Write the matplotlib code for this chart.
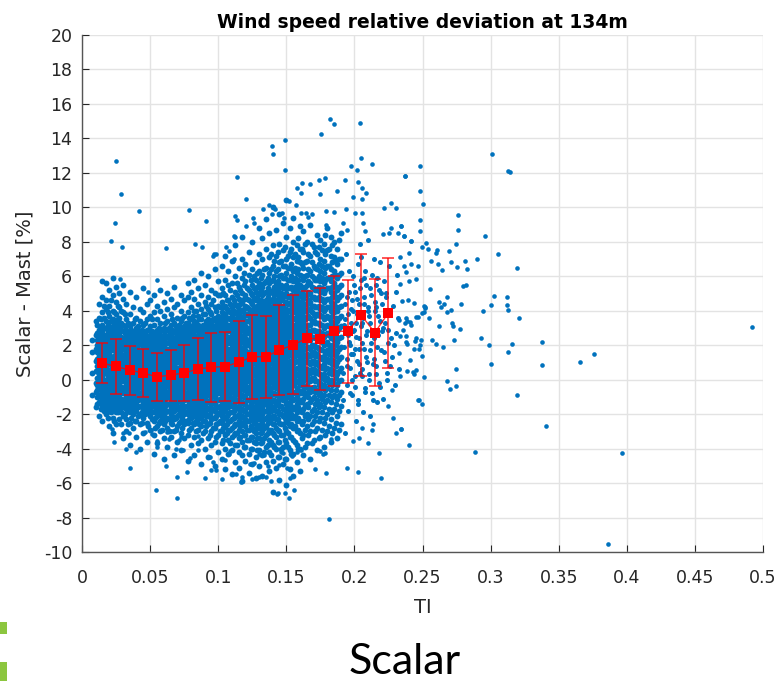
import matplotlib
matplotlib.use("Agg")
import matplotlib.pyplot as plt
from matplotlib.patches import Rectangle

plt.rcParams['font.family'] = ['DejaVu Sans']
plt.rcParams['axes.unicode_minus'] = False

# ---------------- data ----------------
# binned statistics (red squares with +/- 1 std error bars)
bin_ti = [0.015, 0.025, 0.035, 0.045, 0.055, 0.065, 0.075, 0.085, 0.095, 0.105, 0.115,
          0.125, 0.135, 0.145, 0.155, 0.165, 0.175, 0.185, 0.195, 0.205, 0.215, 0.225]
bin_mean = [0.96, 0.77, 0.55, 0.39, 0.16, 0.27, 0.39, 0.62, 0.72, 0.76, 1.01,
            1.33, 1.33, 1.72, 2.02, 2.40, 2.37, 2.81, 2.81, 3.74, 2.73, 3.88]
bin_std = [1.15, 1.58, 1.42, 1.39, 1.40, 1.48, 1.63, 1.78, 2.00, 2.02, 2.39,
           2.43, 2.39, 2.60, 2.87, 2.77, 2.96, 3.19, 2.98, 3.54, 3.09, 3.20]

# dense cloud, read column by column (TI of column, deviations in that column)
col_ti = [0.0075, 0.0100, 0.0125, 0.0150, 0.0175, 0.0200, 0.0225, 0.0250, 0.0275, 0.0300,
          0.0325, 0.0350, 0.0375, 0.0400, 0.0425, 0.0450, 0.0475, 0.0500,
          0.0525, 0.0550, 0.0575, 0.0600, 0.0625, 0.0650, 0.0675, 0.0700, 0.0725, 0.0750, 0.0775, 0.0800,
          0.0825, 0.0850, 0.0875, 0.0900, 0.0925, 0.0950, 0.0975, 0.1000,
          0.1025, 0.1050, 0.1075, 0.1100, 0.1125, 0.1150, 0.1175, 0.1200, 0.1225, 0.1250, 0.1275, 0.1300,
          0.1325, 0.1350, 0.1375, 0.1400, 0.1425, 0.1450, 0.1475, 0.1500, 0.1525, 0.1550, 0.1575, 0.1600,
          0.1625, 0.1650, 0.1675, 0.1700, 0.1725, 0.1750, 0.1775, 0.1800, 0.1825, 0.1850, 0.1875, 0.1900]
col_dev = [
    [-0.9, 0.4, 1.6, 2.3],
    [-1.6, -0.7, -0.2, 0.5, 1.1, 1.8, 2.6, 3.4],
    [-2.1, -1.3, -0.9, -0.5, -0.1, 0.3, 0.6, 1.0, 1.4, 1.7, 2.1, 2.5, 2.9, 3.6, 4.4],
    [-2.4, -1.5, -1.1, -0.8, -0.4, -0.1, 0.2, 0.5, 0.8, 1.2, 1.5, 1.8, 2.1, 2.4, 2.8, 3.2, 3.9, 4.8, 5.7],
    [-2.0, -1.6, -1.2, -0.9, -0.6, -0.3, 0.0, 0.4, 0.7, 1.0, 1.3, 1.6, 2.0, 2.3, 2.6, 3.0, 3.4, 4.1, 4.6, 5.6],
    [-2.7, -1.8, -1.4, -1.0, -0.7, -0.4, -0.1, 0.2, 0.5, 0.9, 1.2, 1.5, 1.9, 2.2, 2.5, 2.8, 3.1, 3.7, 4.3, 5.2],
    [-3.1, -2.2, -1.5, -1.2, -0.8, -0.5, -0.2, 0.1, 0.4, 0.7, 1.0, 1.3, 1.7, 2.0, 2.4, 2.7, 3.0, 3.5, 4.0, 4.9, 5.9],
    [-2.6, -1.9, -1.4, -1.0, -0.6, -0.3, 0.0, 0.3, 0.6, 0.9, 1.2, 1.5, 1.8, 2.2, 2.5, 2.9, 3.3, 3.8, 4.5, 5.4],
    [-2.3, -1.7, -1.3, -0.9, -0.6, -0.2, 0.1, 0.4, 0.8, 1.1, 1.4, 1.7, 2.0, 2.4, 2.7, 3.1, 3.6, 4.2, 5.0],
    [-3.4, -2.1, -1.6, -1.2, -0.8, -0.5, -0.1, 0.2, 0.5, 0.8, 1.1, 1.4, 1.8, 2.1, 2.4, 2.8, 3.2, 3.9, 4.7, 5.5],
    [-3.0, -2.3, -1.7, -1.3, -1.0, -0.6, -0.3, 0.0, 0.3, 0.6, 0.9, 1.2, 1.5, 1.8, 2.2, 2.5, 2.9, 3.5, 4.4],
    [-3.8, -2.5, -1.9, -1.5, -1.1, -0.8, -0.4, -0.1, 0.2, 0.5, 0.8, 1.1, 1.4, 1.7, 2.0, 2.4, 2.7, 3.1, 3.8, 5.1],
    [-2.8, -2.0, -1.6, -1.2, -0.9, -0.5, -0.2, 0.1, 0.4, 0.7, 1.0, 1.3, 1.6, 2.0, 2.3, 2.6, 3.3, 4.2],
    [-3.3, -2.4, -1.8, -1.4, -1.0, -0.7, -0.3, 0.0, 0.3, 0.6, 0.9, 1.2, 1.5, 1.9, 2.2, 2.5, 3.0, 3.6, 4.8],
    [-4.0, -2.6, -2.0, -1.5, -1.1, -0.8, -0.4, -0.1, 0.2, 0.5, 0.8, 1.1, 1.4, 1.7, 2.1, 2.4, 2.8, 3.4, 4.1],
    [-3.1, -2.2, -1.7, -1.3, -0.9, -0.6, -0.2, 0.1, 0.4, 0.7, 1.0, 1.3, 1.6, 2.0, 2.3, 2.7, 3.2, 3.9, 5.3],
    [-3.6, -2.5, -1.9, -1.5, -1.1, -0.7, -0.4, -0.1, 0.2, 0.5, 0.8, 1.1, 1.5, 1.8, 2.1, 2.5, 2.9, 3.5, 4.4],
    [-2.9, -2.1, -1.7, -1.3, -0.9, -0.6, -0.3, 0.0, 0.3, 0.6, 1.0, 1.3, 1.6, 1.9, 2.2, 2.6, 3.1, 3.7, 4.6],
    [-4.3, -3.2, -2.4, -1.9, -1.5, -1.2, -0.8, -0.5, -0.2, 0.1, 0.4, 0.7, 1.0, 1.3, 1.6, 2.0, 2.3, 2.7, 3.2, 3.9, 4.9],
    [-3.7, -2.7, -2.1, -1.7, -1.3, -1.0, -0.6, -0.3, 0.0, 0.3, 0.6, 0.9, 1.2, 1.5, 1.8, 2.2, 2.5, 2.9, 3.5, 4.3],
    [-3.0, -2.4, -1.9, -1.5, -1.1, -0.7, -0.4, -0.1, 0.2, 0.5, 0.8, 1.1, 1.4, 1.7, 2.0, 2.4, 2.8, 3.3, 4.0, 5.2],
    [-4.6, -3.4, -2.6, -2.0, -1.6, -1.2, -0.9, -0.5, -0.2, 0.1, 0.4, 0.7, 1.0, 1.3, 1.6, 1.9, 2.3, 2.6, 3.0, 3.7, 4.5],
    [-3.9, -2.8, -2.2, -1.8, -1.4, -1.0, -0.7, -0.3, 0.0, 0.3, 0.6, 0.9, 1.2, 1.5, 1.8, 2.1, 2.5, 2.9, 3.4, 4.1, 5.0],
    [-3.3, -2.5, -2.0, -1.6, -1.2, -0.8, -0.5, -0.2, 0.1, 0.4, 0.7, 1.0, 1.3, 1.7, 2.0, 2.4, 2.7, 3.2, 3.8, 4.7],
    [-4.4, -3.0, -2.3, -1.8, -1.4, -1.1, -0.7, -0.4, -0.1, 0.2, 0.5, 0.8, 1.1, 1.4, 1.7, 2.1, 2.4, 2.8, 3.3, 4.2, 5.4],
    [-3.6, -2.7, -2.1, -1.7, -1.3, -0.9, -0.6, -0.2, 0.1, 0.4, 0.7, 1.0, 1.3, 1.6, 1.9, 2.2, 2.6, 3.0, 3.6, 4.4],
    [-4.1, -3.1, -2.4, -1.9, -1.5, -1.1, -0.8, -0.4, -0.1, 0.2, 0.5, 0.8, 1.2, 1.5, 1.8, 2.1, 2.5, 2.9, 3.4, 4.0, 4.9],
    [-3.4, -2.6, -2.0, -1.6, -1.2, -0.9, -0.5, -0.2, 0.1, 0.4, 0.7, 1.0, 1.4, 1.7, 2.0, 2.3, 2.7, 3.1, 3.7, 4.6],
    [-4.7, -3.2, -2.5, -2.0, -1.6, -1.2, -0.8, -0.5, -0.1, 0.2, 0.5, 0.9, 1.2, 1.5, 1.8, 2.2, 2.5, 2.9, 3.3, 3.9, 4.8, 5.6],
    [-3.8, -2.8, -2.2, -1.7, -1.3, -1.0, -0.6, -0.3, 0.0, 0.3, 0.6, 1.0, 1.3, 1.6, 1.9, 2.3, 2.6, 3.0, 3.5, 4.2, 5.1],
    [-4.4, -3.3, -2.6, -2.1, -1.7, -1.3, -0.9, -0.6, -0.2, 0.1, 0.4, 0.7, 1.0, 1.3, 1.6, 2.0, 2.3, 2.6, 3.0, 3.4, 4.0, 4.7, 5.8],
    [-3.7, -2.9, -2.3, -1.9, -1.5, -1.1, -0.7, -0.4, -0.1, 0.2, 0.5, 0.9, 1.2, 1.5, 1.8, 2.1, 2.5, 2.8, 3.2, 3.7, 4.4, 5.3],
    [-4.9, -3.5, -2.7, -2.2, -1.8, -1.4, -1.0, -0.6, -0.3, 0.0, 0.3, 0.6, 1.0, 1.3, 1.6, 1.9, 2.3, 2.6, 3.0, 3.5, 4.1, 4.9, 6.2],
    [-4.0, -3.0, -2.4, -1.9, -1.5, -1.1, -0.8, -0.4, -0.1, 0.2, 0.5, 0.8, 1.1, 1.5, 1.8, 2.1, 2.4, 2.8, 3.2, 3.8, 4.5, 5.5],
    [-4.5, -3.4, -2.6, -2.1, -1.7, -1.3, -0.9, -0.5, -0.2, 0.1, 0.4, 0.7, 1.0, 1.3, 1.7, 2.0, 2.3, 2.7, 3.1, 3.5, 4.1, 4.8, 6.0],
    [-3.8, -3.0, -2.3, -1.8, -1.4, -1.0, -0.7, -0.3, 0.0, 0.3, 0.6, 0.9, 1.2, 1.6, 1.9, 2.2, 2.6, 2.9, 3.3, 3.8, 4.4, 5.2],
    [-5.0, -3.6, -2.8, -2.2, -1.8, -1.4, -1.0, -0.6, -0.3, 0.1, 0.4, 0.7, 1.0, 1.4, 1.7, 2.0, 2.4, 2.7, 3.1, 3.6, 4.2, 5.0, 6.4],
    [-4.2, -3.2, -2.5, -2.0, -1.6, -1.2, -0.8, -0.4, -0.1, 0.2, 0.5, 0.9, 1.2, 1.5, 1.8, 2.2, 2.5, 2.9, 3.3, 3.7, 4.3, 4.9, 5.7],
    [-4.6, -3.7, -3.0, -2.5, -2.1, -1.7, -1.3, -0.9, -0.6, -0.2, 0.1, 0.4, 0.7, 1.0, 1.4, 1.7, 2.0, 2.4, 2.7, 3.1, 3.5, 3.9, 4.5, 5.3, 6.6],
    [-5.2, -4.0, -3.2, -2.7, -2.2, -1.8, -1.4, -1.0, -0.7, -0.3, 0.0, 0.3, 0.7, 1.0, 1.3, 1.6, 2.0, 2.3, 2.6, 3.0, 3.4, 3.8, 4.3, 4.9, 5.8, 7.2],
    [-4.3, -3.5, -2.9, -2.4, -2.0, -1.6, -1.2, -0.8, -0.5, -0.1, 0.2, 0.5, 0.8, 1.2, 1.5, 1.8, 2.2, 2.5, 2.9, 3.2, 3.6, 4.0, 4.6, 5.5, 6.3],
    [-5.5, -4.1, -3.3, -2.8, -2.3, -1.9, -1.5, -1.1, -0.7, -0.4, 0.0, 0.3, 0.6, 0.9, 1.3, 1.6, 1.9, 2.3, 2.6, 3.0, 3.3, 3.7, 4.2, 4.8, 5.6, 6.9],
    [-4.8, -3.8, -3.1, -2.6, -2.1, -1.7, -1.3, -0.9, -0.6, -0.2, 0.1, 0.5, 0.8, 1.1, 1.5, 1.8, 2.1, 2.5, 2.8, 3.2, 3.5, 3.9, 4.4, 5.1, 6.0, 7.8],
    [-5.1, -4.2, -3.4, -2.9, -2.4, -2.0, -1.6, -1.2, -0.8, -0.4, -0.1, 0.2, 0.6, 0.9, 1.2, 1.6, 1.9, 2.2, 2.6, 2.9, 3.3, 3.7, 4.1, 4.7, 5.4, 6.5],
    [-5.9, -4.4, -3.6, -3.0, -2.5, -2.1, -1.7, -1.3, -0.9, -0.5, -0.2, 0.2, 0.5, 0.8, 1.2, 1.5, 1.8, 2.2, 2.5, 2.9, 3.2, 3.6, 4.0, 4.5, 5.0, 5.9, 7.0, 8.3],
    [-4.7, -3.9, -3.2, -2.7, -2.3, -1.8, -1.4, -1.0, -0.6, -0.3, 0.1, 0.4, 0.7, 1.1, 1.4, 1.7, 2.1, 2.4, 2.7, 3.1, 3.4, 3.8, 4.3, 4.9, 5.7, 6.7],
    [-5.4, -4.3, -3.5, -2.9, -2.4, -2.0, -1.6, -1.2, -0.8, -0.4, -0.1, 0.3, 0.6, 0.9, 1.3, 1.6, 2.0, 2.3, 2.7, 3.0, 3.4, 3.7, 4.1, 4.6, 5.2, 6.1, 7.4],
    [-4.9, -4.0, -3.3, -2.8, -2.3, -1.9, -1.5, -1.1, -0.7, -0.3, 0.0, 0.4, 0.7, 1.1, 1.4, 1.8, 2.1, 2.4, 2.8, 3.2, 3.5, 3.9, 4.4, 4.9, 5.5, 6.4, 8.0],
    [-5.7, -4.5, -3.7, -3.1, -2.6, -2.1, -1.7, -1.3, -0.9, -0.5, -0.2, 0.2, 0.5, 0.9, 1.2, 1.6, 1.9, 2.3, 2.6, 3.0, 3.3, 3.7, 4.1, 4.6, 5.1, 5.8, 6.8],
    [-5.0, -4.1, -3.4, -2.8, -2.3, -1.9, -1.4, -1.0, -0.6, -0.2, 0.1, 0.5, 0.8, 1.2, 1.5, 1.9, 2.2, 2.6, 2.9, 3.3, 3.7, 4.0, 4.5, 5.0, 5.6, 6.3, 7.3, 8.8],
    [-5.6, -4.4, -3.6, -3.0, -2.5, -2.0, -1.6, -1.1, -0.7, -0.3, 0.0, 0.4, 0.8, 1.1, 1.5, 1.8, 2.2, 2.5, 2.9, 3.2, 3.6, 4.0, 4.4, 4.9, 5.4, 6.1, 7.0, 8.2],
    [-4.8, -3.9, -3.2, -2.7, -2.2, -1.8, -1.3, -0.9, -0.5, -0.1, 0.2, 0.6, 0.9, 1.3, 1.6, 2.0, 2.3, 2.7, 3.0, 3.4, 3.8, 4.2, 4.6, 5.1, 5.7, 6.5, 7.6, 9.3],
    [-5.3, -4.2, -3.5, -2.9, -2.4, -1.9, -1.5, -1.0, -0.6, -0.2, 0.1, 0.5, 0.9, 1.2, 1.6, 1.9, 2.3, 2.6, 3.0, 3.3, 3.7, 4.1, 4.5, 5.0, 5.6, 6.2, 7.1, 8.5],
    [-6.5, -4.7, -3.8, -3.1, -2.6, -2.1, -1.6, -1.2, -0.8, -0.4, 0.0, 0.4, 0.7, 1.1, 1.4, 1.8, 2.1, 2.5, 2.8, 3.2, 3.5, 3.9, 4.3, 4.7, 5.2, 5.8, 6.6, 7.8, 10.0],
    [-5.1, -4.0, -3.3, -2.8, -2.3, -1.8, -1.4, -0.9, -0.5, -0.1, 0.3, 0.6, 1.0, 1.3, 1.7, 2.0, 2.4, 2.7, 3.1, 3.4, 3.8, 4.2, 4.6, 5.1, 5.6, 6.3, 7.2, 8.7],
    [-5.8, -4.5, -3.6, -3.0, -2.5, -2.0, -1.5, -1.1, -0.7, -0.3, 0.1, 0.5, 0.8, 1.2, 1.5, 1.9, 2.2, 2.6, 2.9, 3.3, 3.7, 4.0, 4.4, 4.9, 5.4, 6.0, 6.8, 7.9, 9.6],
    [-4.9, -3.9, -3.2, -2.6, -2.1, -1.7, -1.2, -0.8, -0.4, 0.0, 0.4, 0.7, 1.1, 1.4, 1.8, 2.1, 2.5, 2.8, 3.2, 3.5, 3.9, 4.3, 4.8, 5.3, 5.9, 6.6, 7.5, 9.1],
    [-6.1, -4.6, -3.7, -3.0, -2.4, -1.9, -1.4, -1.0, -0.6, -0.2, 0.2, 0.5, 0.9, 1.3, 1.6, 2.0, 2.3, 2.7, 3.0, 3.4, 3.8, 4.1, 4.5, 5.0, 5.5, 6.2, 7.0, 8.3, 10.4],
    [-5.2, -4.1, -3.3, -2.7, -2.2, -1.7, -1.3, -0.8, -0.4, 0.0, 0.4, 0.8, 1.1, 1.5, 1.9, 2.2, 2.6, 2.9, 3.3, 3.6, 4.0, 4.4, 4.8, 5.3, 5.8, 6.5, 7.4, 8.8],
    [-5.6, -4.3, -3.5, -2.8, -2.2, -1.7, -1.2, -0.8, -0.3, 0.1, 0.5, 0.9, 1.3, 1.6, 2.0, 2.4, 2.7, 3.1, 3.5, 3.9, 4.3, 4.7, 5.2, 5.7, 6.3, 7.1, 8.0, 9.4],
    [-4.8, -3.8, -3.0, -2.4, -1.9, -1.4, -0.9, -0.5, -0.1, 0.3, 0.7, 1.1, 1.5, 1.9, 2.2, 2.6, 3.0, 3.4, 3.8, 4.2, 4.6, 5.1, 5.6, 6.2, 6.9, 7.8],
    [-5.3, -4.0, -3.1, -2.4, -1.8, -1.3, -0.8, -0.3, 0.1, 0.5, 0.9, 1.3, 1.7, 2.1, 2.5, 2.9, 3.3, 3.7, 4.1, 4.5, 5.0, 5.5, 6.1, 6.8, 7.6, 8.9],
    [-4.4, -3.2, -2.4, -1.7, -1.1, -0.6, -0.1, 0.4, 0.8, 1.3, 1.7, 2.1, 2.5, 2.9, 3.3, 3.7, 4.2, 4.7, 5.2, 5.8, 6.5, 7.4, 8.6],
    [-3.7, -2.7, -2.0, -1.4, -0.8, -0.3, 0.2, 0.6, 1.1, 1.5, 1.9, 2.3, 2.7, 3.1, 3.6, 4.0, 4.4, 4.9, 5.5, 6.1, 6.9, 8.0],
    [-4.6, -3.0, -2.1, -1.3, -0.7, -0.1, 0.4, 0.9, 1.4, 1.8, 2.3, 2.7, 3.2, 3.6, 4.1, 4.5, 5.0, 5.6, 6.3, 7.2, 9.0],
    [-3.5, -2.4, -1.7, -1.0, -0.4, 0.1, 0.6, 1.1, 1.6, 2.0, 2.5, 2.9, 3.4, 3.8, 4.3, 4.8, 5.3, 5.9, 6.6, 7.7],
    [-4.1, -2.8, -1.9, -1.2, -0.6, -0.1, 0.5, 1.0, 1.5, 1.9, 2.4, 2.8, 3.3, 3.8, 4.2, 4.7, 5.2, 5.8, 6.4, 7.3, 8.4],
    [-3.3, -2.2, -1.4, -0.8, -0.2, 0.3, 0.8, 1.3, 1.8, 2.3, 2.7, 3.2, 3.7, 4.1, 4.6, 5.1, 5.7, 6.3, 7.0, 8.1],
    [-3.9, -2.5, -1.6, -0.9, -0.3, 0.3, 0.9, 1.4, 2.0, 2.5, 3.0, 3.5, 4.0, 4.5, 5.0, 5.6, 6.2, 6.9, 7.9],
    [-3.0, -2.0, -1.2, -0.5, 0.1, 0.7, 1.2, 1.7, 2.2, 2.7, 3.2, 3.7, 4.2, 4.7, 5.3, 5.9, 6.6, 7.5, 8.8],
    [-3.6, -2.3, -1.3, -0.6, 0.0, 0.6, 1.2, 1.8, 2.4, 2.9, 3.4, 4.0, 4.5, 5.1, 5.7, 6.4, 7.2, 8.3],
    [-2.8, -1.7, -0.9, -0.2, 0.5, 1.1, 1.7, 2.3, 2.8, 3.3, 3.9, 4.4, 5.0, 5.6, 6.3, 7.1, 8.0],
    [-3.4, -2.1, -1.1, -0.3, 0.3, 1.0, 1.6, 2.2, 2.8, 3.4, 4.0, 4.6, 5.2, 5.9, 6.7, 7.6],
    [-2.6, -1.5, -0.7, 0.0, 0.7, 1.3, 1.9, 2.5, 3.1, 3.7, 4.3, 4.9, 5.5, 6.2, 7.0, 8.5],
]

# second set of columns, in between the first ones (dense core)
col2_ti = [0.01125, 0.01375, 0.01625, 0.01875, 0.02125, 0.02375, 0.02625, 0.02875,
           0.03125, 0.03375, 0.03625, 0.03875, 0.04125, 0.04375, 0.04625, 0.04875,
           0.05125, 0.05375, 0.05625, 0.05875, 0.06125, 0.06375, 0.06625, 0.06875,
           0.07125, 0.07375, 0.07625, 0.07875, 0.08125, 0.08375, 0.08625, 0.08875,
           0.09125, 0.09375, 0.09625, 0.09875, 0.10125, 0.10375, 0.10625, 0.10875,
           0.11125, 0.11375, 0.11625, 0.11875, 0.12125, 0.12375, 0.12625, 0.12875,
           0.13125, 0.13375, 0.13625, 0.13875, 0.14125, 0.14375, 0.14625, 0.14875,
           0.15125, 0.15375, 0.15625, 0.15875, 0.16125, 0.16375, 0.16625, 0.16875,
           0.17125, 0.17375, 0.17625, 0.17875, 0.18125, 0.18375, 0.18625, 0.18875]
col2_dev = [
    [-1.4, -1.0, -0.6, -0.3, 0.1, 0.5, 0.8, 1.2, 1.6, 2.0, 2.3, 2.7, 3.2],
    [-1.7, -1.3, -1.0, -0.6, -0.2, 0.1, 0.4, 0.8, 1.1, 1.5, 1.9, 2.2, 2.6, 3.0, 3.5],
    [-1.8, -1.3, -1.0, -0.6, -0.3, 0.0, 0.4, 0.7, 1.0, 1.4, 1.7, 2.0, 2.3, 2.6, 3.0, 3.6, 4.3],
    [-2.2, -1.4, -1.1, -0.8, -0.5, -0.1, 0.2, 0.5, 0.9, 1.2, 1.5, 1.8, 2.2, 2.5, 2.8, 3.2, 3.9],
    [-1.9, -1.6, -1.2, -0.9, -0.6, -0.3, 0.0, 0.3, 0.6, 1.0, 1.3, 1.7, 2.0, 2.3, 2.6, 3.0, 3.4, 4.6],
    [-2.4, -1.7, -1.3, -1.0, -0.7, -0.4, -0.1, 0.2, 0.5, 0.8, 1.1, 1.4, 1.7, 2.1, 2.4, 2.8, 3.2, 3.9],
    [-1.9, -1.6, -1.2, -0.8, -0.5, -0.2, 0.2, 0.5, 0.8, 1.1, 1.4, 1.7, 2.0, 2.3, 2.7, 3.0, 3.5, 4.3],
    [-2.6, -1.9, -1.4, -1.1, -0.7, -0.4, -0.1, 0.3, 0.6, 0.9, 1.2, 1.5, 1.9, 2.2, 2.5, 2.9, 3.3, 4.0],
    [-2.0, -1.5, -1.1, -0.8, -0.4, -0.1, 0.2, 0.5, 0.8, 1.0, 1.3, 1.7, 2.0, 2.3, 2.7, 3.1, 3.8],
    [-2.6, -1.8, -1.4, -1.0, -0.7, -0.3, 0.0, 0.3, 0.6, 0.9, 1.2, 1.5, 1.9, 2.2, 2.6, 3.3],
    [-2.2, -1.7, -1.3, -1.0, -0.6, -0.3, 0.0, 0.3, 0.6, 0.9, 1.2, 1.6, 1.9, 2.2, 2.5, 2.9],
    [-2.4, -1.8, -1.4, -1.1, -0.7, -0.4, -0.1, 0.2, 0.5, 0.8, 1.2, 1.5, 1.8, 2.1, 2.4, 2.8, 3.5],
    [-2.1, -1.6, -1.2, -0.9, -0.5, -0.2, 0.1, 0.4, 0.7, 1.0, 1.3, 1.6, 2.0, 2.3, 2.6, 3.1],
    [-2.5, -1.9, -1.5, -1.1, -0.8, -0.4, -0.1, 0.2, 0.5, 0.9, 1.2, 1.5, 1.8, 2.1, 2.5, 2.9],
    [-2.0, -1.6, -1.3, -0.9, -0.5, -0.2, 0.2, 0.5, 0.8, 1.1, 1.4, 1.7, 2.0, 2.4, 2.7, 3.3],
    [-2.7, -1.8, -1.4, -1.0, -0.7, -0.3, 0.0, 0.3, 0.6, 0.9, 1.2, 1.6, 1.9, 2.2, 2.5, 2.9],
    [-2.3, -1.9, -1.5, -1.1, -0.8, -0.4, -0.1, 0.2, 0.5, 0.8, 1.1, 1.4, 1.7, 2.1, 2.4, 2.8, 3.5],
    [-2.8, -2.2, -1.8, -1.4, -1.0, -0.7, -0.4, 0.0, 0.3, 0.6, 0.9, 1.2, 1.5, 1.8, 2.1, 2.5],
    [-2.5, -2.0, -1.6, -1.2, -0.9, -0.5, -0.2, 0.1, 0.4, 0.7, 1.0, 1.3, 1.6, 2.0, 2.3, 2.7, 3.0],
    [-2.9, -2.2, -1.7, -1.3, -1.0, -0.6, -0.3, 0.0, 0.3, 0.6, 0.9, 1.2, 1.6, 1.9, 2.2, 2.5, 2.9],
    [-2.4, -1.9, -1.5, -1.1, -0.8, -0.4, -0.1, 0.2, 0.5, 0.8, 1.1, 1.4, 1.8, 2.1, 2.4, 2.8, 3.3],
    [-3.0, -2.3, -1.8, -1.4, -1.0, -0.7, -0.4, 0.0, 0.3, 0.6, 0.9, 1.2, 1.5, 1.8, 2.2, 2.6, 3.0],
    [-2.6, -2.1, -1.7, -1.3, -0.9, -0.6, -0.3, 0.0, 0.3, 0.6, 0.9, 1.2, 1.6, 1.9, 2.2, 2.5, 2.9, 3.5],
    [-2.9, -2.2, -1.6, -1.2, -0.8, -0.5, -0.2, 0.1, 0.4, 0.7, 1.0, 1.3, 1.6, 2.0, 2.3, 2.7, 3.1],
    [-2.5, -2.0, -1.6, -1.2, -0.9, -0.5, -0.2, 0.1, 0.4, 0.7, 1.0, 1.3, 1.7, 2.0, 2.4, 2.8, 3.2],
    [-2.8, -2.2, -1.8, -1.4, -1.0, -0.7, -0.3, 0.0, 0.3, 0.6, 0.9, 1.2, 1.5, 1.9, 2.2, 2.6, 3.0, 3.6],
    [-2.4, -1.9, -1.5, -1.1, -0.8, -0.4, -0.1, 0.2, 0.5, 0.8, 1.1, 1.5, 1.8, 2.1, 2.5, 2.9, 3.3],
    [-2.9, -2.3, -1.8, -1.4, -1.0, -0.7, -0.3, 0.0, 0.4, 0.7, 1.0, 1.3, 1.7, 2.0, 2.4, 2.7, 3.1, 3.6],
    [-2.5, -2.0, -1.6, -1.2, -0.8, -0.5, -0.1, 0.2, 0.5, 0.8, 1.2, 1.5, 1.8, 2.1, 2.5, 2.8, 3.2, 3.7],
    [-3.0, -2.4, -1.9, -1.5, -1.1, -0.8, -0.4, -0.1, 0.3, 0.6, 0.9, 1.2, 1.5, 1.9, 2.2, 2.5, 2.9, 3.3, 4.0],
    [-2.6, -2.1, -1.7, -1.3, -0.9, -0.6, -0.2, 0.1, 0.4, 0.7, 1.0, 1.4, 1.7, 2.0, 2.4, 2.7, 3.1, 3.5],
    [-3.1, -2.4, -2.0, -1.6, -1.2, -0.8, -0.5, -0.1, 0.2, 0.5, 0.8, 1.2, 1.5, 1.8, 2.1, 2.5, 2.8, 3.2, 3.8],
    [-2.7, -2.1, -1.7, -1.3, -0.9, -0.6, -0.3, 0.1, 0.4, 0.7, 1.0, 1.3, 1.6, 2.0, 2.3, 2.6, 3.0, 3.4, 4.3],
    [-3.2, -2.5, -2.0, -1.6, -1.2, -0.8, -0.4, -0.1, 0.2, 0.5, 0.9, 1.2, 1.5, 1.8, 2.2, 2.5, 2.9, 3.3, 3.9],
    [-2.8, -2.2, -1.7, -1.3, -0.9, -0.5, -0.2, 0.1, 0.5, 0.8, 1.1, 1.4, 1.7, 2.1, 2.4, 2.8, 3.1, 3.5, 4.6],
    [-3.3, -2.6, -2.1, -1.6, -1.2, -0.8, -0.5, -0.1, 0.2, 0.6, 0.9, 1.2, 1.6, 1.9, 2.3, 2.6, 3.0, 3.4, 4.0],
    [-3.0, -2.4, -1.9, -1.5, -1.1, -0.7, -0.3, 0.0, 0.3, 0.7, 1.0, 1.3, 1.7, 2.0, 2.4, 2.7, 3.1, 3.5, 4.2, 4.9],
    [-3.5, -2.8, -2.3, -1.9, -1.5, -1.1, -0.8, -0.4, -0.1, 0.2, 0.6, 0.9, 1.2, 1.5, 1.9, 2.2, 2.5, 2.9, 3.3, 3.7, 4.2, 5.0],
    [-3.1, -2.6, -2.1, -1.6, -1.2, -0.9, -0.5, -0.1, 0.2, 0.5, 0.8, 1.2, 1.5, 1.8, 2.1, 2.5, 2.8, 3.2, 3.6, 4.1, 4.6],
    [-3.7, -2.9, -2.4, -1.9, -1.4, -1.0, -0.6, -0.3, 0.1, 0.4, 0.7, 1.0, 1.4, 1.7, 2.1, 2.4, 2.8, 3.1, 3.5, 3.9, 4.4, 5.2],
    [-3.2, -2.7, -2.2, -1.8, -1.4, -1.0, -0.6, -0.2, 0.2, 0.5, 0.8, 1.1, 1.4, 1.7, 2.0, 2.4, 2.8, 3.1, 3.5, 4.0, 4.6],
    [-3.8, -3.1, -2.6, -2.1, -1.6, -1.2, -0.8, -0.4, -0.1, 0.3, 0.7, 1.0, 1.3, 1.7, 2.0, 2.3, 2.7, 3.0, 3.4, 3.8, 4.3, 4.9, 5.6],
    [-3.3, -2.7, -2.2, -1.8, -1.4, -1.0, -0.6, -0.3, 0.0, 0.4, 0.7, 1.1, 1.4, 1.7, 2.1, 2.4, 2.8, 3.1, 3.5, 3.9, 4.4, 5.2],
    [-3.9, -3.2, -2.6, -2.2, -1.8, -1.4, -1.0, -0.6, -0.2, 0.1, 0.5, 0.8, 1.2, 1.5, 1.9, 2.2, 2.6, 2.9, 3.3, 3.7, 4.1, 4.7, 5.5, 6.2],
    [-3.5, -2.9, -2.4, -2.0, -1.6, -1.2, -0.8, -0.5, -0.1, 0.2, 0.6, 0.9, 1.3, 1.6, 2.0, 2.3, 2.7, 3.0, 3.4, 3.8, 4.2, 4.7, 5.3],
    [-4.0, -3.3, -2.7, -2.2, -1.8, -1.4, -1.0, -0.6, -0.3, 0.1, 0.5, 0.8, 1.2, 1.5, 1.9, 2.2, 2.5, 2.9, 3.3, 3.6, 4.0, 4.5, 5.0, 5.8],
    [-3.6, -3.0, -2.5, -2.0, -1.6, -1.2, -0.9, -0.5, -0.1, 0.3, 0.6, 1.0, 1.3, 1.7, 2.0, 2.4, 2.7, 3.1, 3.4, 3.8, 4.2, 4.7, 5.3, 6.0],
    [-4.1, -3.4, -2.8, -2.3, -1.9, -1.5, -1.1, -0.7, -0.3, 0.0, 0.4, 0.7, 1.1, 1.4, 1.8, 2.1, 2.5, 2.8, 3.2, 3.5, 3.9, 4.3, 4.8, 5.4, 6.2],
    [-3.7, -3.1, -2.6, -2.1, -1.7, -1.2, -0.8, -0.4, -0.1, 0.3, 0.6, 1.0, 1.3, 1.7, 2.0, 2.4, 2.7, 3.1, 3.4, 3.8, 4.2, 4.6, 5.2, 5.9],
    [-4.2, -3.4, -2.8, -2.3, -1.8, -1.4, -1.0, -0.6, -0.2, 0.1, 0.5, 0.9, 1.2, 1.6, 1.9, 2.3, 2.6, 3.0, 3.3, 3.7, 4.1, 4.5, 5.0, 5.6, 6.4],
    [-3.8, -3.1, -2.5, -2.1, -1.6, -1.2, -0.8, -0.4, 0.0, 0.4, 0.7, 1.1, 1.4, 1.8, 2.1, 2.5, 2.8, 3.2, 3.6, 4.0, 4.4, 4.8, 5.3, 5.9],
    [-4.4, -3.6, -2.9, -2.3, -1.8, -1.3, -0.9, -0.5, -0.1, 0.3, 0.6, 1.0, 1.3, 1.7, 2.0, 2.4, 2.7, 3.1, 3.5, 3.8, 4.2, 4.6, 5.1, 5.7, 6.4, 7.3],
    [-3.9, -3.2, -2.6, -2.1, -1.6, -1.2, -0.8, -0.3, 0.1, 0.5, 0.8, 1.2, 1.5, 1.9, 2.2, 2.6, 2.9, 3.3, 3.7, 4.1, 4.5, 4.9, 5.4, 6.0, 6.9],
    [-4.5, -3.6, -2.9, -2.3, -1.8, -1.3, -0.9, -0.5, -0.1, 0.3, 0.7, 1.0, 1.4, 1.7, 2.1, 2.4, 2.8, 3.1, 3.5, 3.9, 4.3, 4.7, 5.2, 5.7, 6.4, 7.4],
    [-4.0, -3.2, -2.6, -2.0, -1.5, -1.0, -0.6, -0.2, 0.2, 0.6, 0.9, 1.3, 1.6, 2.0, 2.3, 2.7, 3.0, 3.4, 3.8, 4.2, 4.6, 5.0, 5.5, 6.1, 6.9],
    [-4.6, -3.5, -2.8, -2.2, -1.7, -1.2, -0.8, -0.4, 0.0, 0.4, 0.8, 1.1, 1.5, 1.8, 2.2, 2.6, 2.9, 3.3, 3.7, 4.1, 4.5, 4.9, 5.3, 5.9, 6.6, 7.7],
    [-3.9, -3.1, -2.5, -2.0, -1.5, -1.0, -0.6, -0.2, 0.2, 0.6, 1.0, 1.4, 1.7, 2.1, 2.5, 2.8, 3.2, 3.6, 4.0, 4.4, 4.8, 5.3, 5.8, 6.5, 7.2],
    [-4.3, -3.3, -2.6, -2.0, -1.5, -1.0, -0.5, -0.1, 0.3, 0.7, 1.1, 1.5, 1.8, 2.2, 2.6, 3.0, 3.3, 3.7, 4.1, 4.5, 4.9, 5.4, 6.0, 6.7, 7.6],
    [-3.6, -2.7, -2.1, -1.6, -1.1, -0.7, -0.2, 0.2, 0.6, 1.0, 1.4, 1.7, 2.1, 2.5, 2.8, 3.2, 3.6, 4.0, 4.4, 4.9, 5.4, 5.9, 6.5, 7.3],
    [-4.0, -2.9, -2.2, -1.6, -1.1, -0.6, -0.1, 0.3, 0.7, 1.1, 1.5, 1.9, 2.3, 2.7, 3.1, 3.5, 3.9, 4.3, 4.8, 5.3, 5.8, 6.4, 7.1, 8.2],
    [-3.4, -2.6, -1.9, -1.3, -0.8, -0.3, 0.2, 0.6, 1.0, 1.5, 1.9, 2.3, 2.7, 3.1, 3.5, 3.9, 4.4, 4.9, 5.4, 6.0, 6.7, 7.6],
    [-3.9, -2.9, -2.1, -1.5, -0.9, -0.4, 0.1, 0.5, 1.0, 1.4, 1.8, 2.2, 2.7, 3.1, 3.5, 4.0, 4.4, 4.9, 5.4, 6.0, 6.8, 7.9],
    [-3.2, -2.3, -1.6, -1.0, -0.5, 0.0, 0.5, 1.0, 1.4, 1.9, 2.3, 2.8, 3.2, 3.7, 4.1, 4.6, 5.1, 5.7, 6.4, 7.3],
    [-3.7, -2.6, -1.8, -1.1, -0.5, 0.1, 0.6, 1.1, 1.6, 2.0, 2.5, 2.9, 3.4, 3.9, 4.3, 4.8, 5.4, 6.0, 6.8, 7.9],
    [-3.0, -2.1, -1.4, -0.7, -0.1, 0.4, 0.9, 1.4, 1.9, 2.4, 2.8, 3.3, 3.7, 4.2, 4.7, 5.2, 5.8, 6.5, 7.4],
    [-3.4, -2.4, -1.6, -0.9, -0.3, 0.3, 0.8, 1.3, 1.8, 2.3, 2.8, 3.3, 3.8, 4.3, 4.8, 5.4, 6.0, 6.7, 7.7],
    [-2.9, -1.9, -1.1, -0.5, 0.1, 0.7, 1.2, 1.7, 2.2, 2.7, 3.2, 3.7, 4.2, 4.7, 5.3, 5.9, 6.6, 7.5],
    [-3.2, -2.2, -1.3, -0.6, 0.0, 0.6, 1.1, 1.6, 2.1, 2.6, 3.1, 3.6, 4.1, 4.6, 5.2, 5.8, 6.5, 7.3, 8.4],
    [-2.7, -1.7, -0.9, -0.2, 0.4, 1.0, 1.5, 2.0, 2.6, 3.1, 3.6, 4.2, 4.7, 5.3, 5.9, 6.6, 7.6],
    [-3.1, -1.9, -1.0, -0.3, 0.3, 0.9, 1.5, 2.0, 2.6, 3.1, 3.7, 4.2, 4.8, 5.4, 6.0, 6.8, 7.8],
    [-2.5, -1.4, -0.6, 0.1, 0.8, 1.4, 2.0, 2.5, 3.1, 3.6, 4.2, 4.8, 5.4, 6.1, 6.9],
    [-2.9, -1.8, -0.9, -0.1, 0.5, 1.2, 1.8, 2.4, 3.0, 3.6, 4.2, 4.8, 5.4, 6.1, 7.0, 8.1],
]

# sparser points, read individually (TI, deviation)
sparse_ti = [
    0.1930, 0.1951, 0.1968, 0.1985, 0.1942, 0.1977, 0.1959, 0.1990, 0.1934, 0.1972, 0.1948, 0.1995, 0.1962, 0.1939,
    0.2012, 0.2028, 0.2005, 0.2043, 0.2021, 0.2037, 0.2009, 0.2048, 0.2017, 0.2033, 0.2002, 0.2046, 0.2025, 0.2039,
    0.2063, 0.2081, 0.2055, 0.2094, 0.2072, 0.2088, 0.2059, 0.2098, 0.2067, 0.2085, 0.2076, 0.2052,
    0.2113, 0.2131, 0.2105, 0.2144, 0.2122, 0.2138, 0.2109, 0.2148, 0.2117, 0.2127, 0.2141, 0.2102,
    0.2163, 0.2181, 0.2155, 0.2194, 0.2172, 0.2188, 0.2159, 0.2197, 0.2167, 0.2185,
    0.2213, 0.2236, 0.2221, 0.2247, 0.2208, 0.2242, 0.2229, 0.2217, 0.2253, 0.2264, 0.2271, 0.2286,
    0.2295, 0.2279, 0.2309, 0.2318, 0.2302, 0.2326, 0.2289, 0.2313,
    0.1918, 0.1921, 0.1925, 0.1929, 0.1916, 0.1944, 0.1947, 0.1955, 0.1953, 0.1957, 0.1966, 0.1970,
    0.1974, 0.1979, 0.1983, 0.1993, 0.1997, 0.1989, 0.1987, 0.2003, 0.2008, 0.2014, 0.2019, 0.2023,
    0.2031, 0.2036, 0.2041, 0.2044, 0.2053, 0.2058, 0.2062, 0.2069, 0.2074, 0.2079, 0.2087, 0.2091,
    0.2097, 0.2104, 0.2111, 0.2118, 0.2124, 0.2133, 0.2137, 0.2143, 0.2149, 0.2156, 0.2161, 0.2169,
    0.2176, 0.2183, 0.2191, 0.2199, 0.2206, 0.2215, 0.2224, 0.2232, 0.2241, 0.2249,
]
sparse_dev = [
    -3.1, -1.8, -0.8, 0.0, 0.8, 1.5, 2.2, 2.8, 3.5, 4.1, 4.8, 5.5, 6.3, 7.3,
    -2.4, -1.2, -0.4, 0.4, 1.1, 1.8, 2.5, 3.1, 3.8, 4.4, 5.1, 5.8, 6.7, 7.9,
    -1.9, -0.7, 0.2, 1.0, 1.8, 2.6, 3.3, 4.0, 4.8, 5.5, 6.3, 7.1,
    -2.1, -0.8, 0.3, 1.2, 2.1, 2.9, 3.7, 4.5, 5.3, 6.1, 7.0, 8.1,
    -1.3, -0.2, 0.8, 1.7, 2.6, 3.4, 4.2, 5.0, 5.9, 6.8,
    -1.1, 0.0, 1.1, 2.1, 3.0, 3.9, 4.8, 5.7, 6.6, 0.8, 2.4, 4.3,
    -0.3, 1.3, 2.7, 3.6, 5.1, 0.6, 2.0, 6.1,
    0.4, 1.9, 3.2, 4.4, -1.2, -0.3, 1.2, 2.6, 3.8, 5.1, 0.7, 2.0,
    3.3, 4.6, -0.9, 1.5, 2.9, 4.0, 6.0, 0.2, 1.8, 3.3, 4.7, -1.4,
    0.9, 2.4, 3.9, 5.3, 0.6, 2.1, 3.6, 4.4, 5.9, -0.5, 1.3, 2.8,
    4.2, 0.0, 1.7, 3.3, 4.9, -1.2, 0.9, 2.4, 4.0, 5.5, 0.3, 1.9,
    3.7, 5.2, -0.4, 2.8, 4.4, 1.6, 3.3, 5.0, 0.4, 2.9,
]

# individually visible outliers (TI, deviation)
out_ti = [
    0.0252, 0.0283, 0.0422, 0.0245, 0.0215, 0.0291, 0.0618, 0.0788, 0.0913, 0.1138, 0.1203, 0.1394,
    0.1406, 0.1489, 0.1489, 0.1753, 0.1818, 0.1852, 0.2040, 0.2048, 0.2126, 0.1972, 0.2020, 0.2372,
    0.0830, 0.0881, 0.0554, 0.0486, 0.0276,
    0.1616, 0.1610, 0.1672, 0.1740, 0.1782, 0.1579, 0.1745, 0.1874, 0.1928, 0.2028, 0.2055, 0.2082,
    0.1991, 0.2057, 0.1496, 0.1523, 0.1328, 0.1374, 0.1398, 0.1420, 0.1467, 0.1484, 0.1574, 0.1608,
    0.1643, 0.1691, 0.1657, 0.1793, 0.1791, 0.1852, 0.1914, 0.1936, 0.1948, 0.2004, 0.2057, 0.2064,
    0.2077, 0.2214, 0.2269, 0.2306, 0.2340, 0.2211, 0.2253, 0.2269, 0.2321, 0.2365, 0.2419,
    0.1120, 0.1135, 0.1203, 0.1252, 0.1264, 0.1113, 0.1127, 0.0984, 0.0959, 0.0971, 0.1057, 0.1081,
    0.1105, 0.1113,
    0.3008, 0.3126, 0.3143, 0.2481, 0.2370, 0.2479, 0.2503, 0.2483, 0.2761, 0.2761, 0.2483, 0.2958,
    0.2343, 0.2365, 0.2417, 0.2747, 0.2523, 0.2493, 0.2540, 0.2604, 0.2599, 0.2696, 0.3057, 0.2402,
    0.2902, 0.2560, 0.2707, 0.2811, 0.2616, 0.2419, 0.2365, 0.2468, 0.2752, 0.2826, 0.2646, 0.3193,
    0.2380, 0.2333, 0.2338, 0.2400, 0.2452, 0.2557, 0.2801, 0.2818, 0.3023, 0.3119, 0.2683, 0.2346,
    0.2395, 0.2436, 0.2510, 0.2515, 0.2520, 0.2510, 0.2493, 0.2619, 0.2638, 0.2658, 0.2678, 0.2712,
    0.2781, 0.2944, 0.3003, 0.3119, 0.3131, 0.3210, 0.4920, 0.2545, 0.2622, 0.2717, 0.2722, 0.2774,
    0.2326, 0.2368, 0.2387, 0.2405, 0.2412, 0.2360, 0.2380, 0.2454, 0.2466, 0.2927, 0.2991, 0.3160,
    0.3131, 0.3380, 0.2734, 0.2653, 0.2599, 0.2570, 0.2486, 0.2479, 0.2444, 0.2454, 0.2382, 0.2387,
    0.2335, 0.2380, 0.2441, 0.2471, 0.2326, 0.2405, 0.2493, 0.3003, 0.3380, 0.3660, 0.3756, 0.2747,
    0.2387, 0.2432, 0.2454, 0.2441, 0.2338, 0.2513, 0.2680, 0.2744, 0.2703, 0.3193, 0.2474, 0.2493,
    0.3407, 0.2343, 0.2400, 0.2885, 0.3965, 0.3865,
    0.1813, 0.0542, 0.0698, 0.1430, 0.1438, 0.1489, 0.1520, 0.1555, 0.1169, 0.0354, 0.0618, 0.0698,
    0.0769, 0.0900, 0.1028, 0.1133, 0.1245, 0.1296, 0.1352, 0.1391, 0.1526, 0.1709, 0.1789, 0.1947,
    0.2023, 0.2196, 0.2177, 0.0325, 0.0395, 0.0237, 0.0222, 0.0300, 0.0344, 0.0459, 0.0503, 0.0515,
    0.0552, 0.0549, 0.0622, 0.0637, 0.0652, 0.0691, 0.0715, 0.0728, 0.0742, 0.0796, 0.0852, 0.0854,
    0.0937, 0.0949, 0.0984, 0.0964, 0.1047, 0.1081, 0.1089, 0.1174, 0.1235, 0.1264, 0.1303, 0.1337,
    0.1362, 0.1450, 0.1460, 0.1477, 0.1506, 0.1545, 0.1581, 0.1608, 0.1747, 0.1767, 0.1784, 0.1826,
    0.1989, 0.2033, 0.2053, 0.2099, 0.2126, 0.2135, 0.2282, 0.2302, 0.2340, 0.2247, 0.2467, 0.2275,
]
out_dev = [
    12.67, 10.80, 9.81, 9.07, 8.06, 7.69, 7.66, 9.83, 9.19, 11.78, 10.50, 13.53,
    13.12, 13.88, 12.15, 14.23, 15.10, 14.84, 14.87, 12.89, 12.54, 12.37, 12.17, 11.84,
    7.89, 7.67, 5.76, 5.10, 5.85,
    11.43, 10.85, 11.38, 11.57, 11.73, 11.10, 10.77, 10.95, 11.59, 11.45, 11.12, 10.81,
    10.60, 10.49, 10.43, 10.39, 9.92, 10.12, 9.59, 9.88, 9.69, 9.40, 10.12, 9.69,
    9.65, 9.59, 9.46, 9.79, 9.00, 9.73, 9.09, 9.92, 8.68, 9.65, 9.69, 9.09,
    8.62, 9.98, 10.27, 9.98, 8.90, 8.47, 8.51, 8.78, 8.49, 8.33, 8.04,
    9.50, 9.24, 8.91, 9.40, 9.11, 8.33, 8.30, 7.31, 7.17, 7.28, 7.69, 7.46,
    6.88, 7.02,
    13.10, 12.11, 12.05, 12.42, 11.84, 10.93, 10.17, 9.28, 9.55, 8.70, 8.60, 8.33,
    8.90, 8.31, 8.04, 7.89, 7.92, 7.69, 7.60, 7.54, 7.37, 7.48, 7.31, 7.33,
    6.98, 6.90, 6.84, 6.90, 6.74, 6.74, 6.59, 6.59, 6.55, 6.44, 6.38, 6.49,
    6.24, 7.13, 5.56, 5.72, 5.87, 5.29, 5.42, 5.48, 4.83, 4.78, 4.78, 4.57,
    4.63, 4.44, 4.30, 4.19, 4.13, 3.94, 3.86, 4.52, 4.24, 4.38, 3.95, 4.05,
    4.38, 4.00, 4.36, 4.36, 4.03, 3.55, 3.05, 3.55, 3.14, 3.26, 3.14, 2.95,
    3.49, 3.30, 3.38, 3.35, 3.15, 2.90, 3.60, 3.65, 3.65, 2.40, 2.02, 2.08,
    1.61, 2.19, 2.28, 1.92, 2.05, 2.33, 2.33, 2.02, 2.25, 2.40, 2.20, 2.05,
    2.54, 2.54, 1.80, 1.80, 1.55, 1.12, 1.35, 0.91, 0.87, 1.05, 1.49, 0.64,
    0.50, 0.45, 0.55, 0.32, 0.20, 0.13, -0.08, -0.37, -0.54, -0.91, -1.20, -1.41,
    -2.71, -2.87, -3.82, -4.20, -4.25, -9.52,
    -8.08, -6.41, -6.88, -6.65, -6.59, -6.59, -6.88, -6.41, -5.95, -5.14, -5.02, -5.66,
    -5.37, -5.68, -5.76, -5.48, -5.78, -5.64, -5.62, -5.89, -5.68, -5.16, -5.43, -5.14,
    -5.35, -5.72, -4.28, -4.03, -4.21, -3.62, -2.87, -3.10, -3.08, -3.04, -2.91, -3.14,
    -3.88, -3.53, -3.06, -3.43, -2.95, -4.01, -3.49, -3.33, -4.09, -4.53, -3.29, -4.07,
    -4.50, -5.23, -5.23, -4.77, -4.69, -4.32, -4.13, -5.66, -4.90, -4.81, -4.30, -4.40,
    -5.02, -4.96, -4.22, -4.28, -5.10, -4.44, -4.21, -4.11, -4.13, -4.30, -4.26, -3.45,
    -3.55, -3.41, -2.83, -3.70, -2.91, -2.60, -2.25, -3.08, -2.87, -1.53, -1.20, -0.60,
]

x_ticks = [0, 0.05, 0.1, 0.15, 0.2, 0.25, 0.3, 0.35, 0.4, 0.45, 0.5]
x_labels = ['0', '0.05', '0.1', '0.15', '0.2', '0.25', '0.3', '0.35', '0.4', '0.45', '0.5']
y_ticks = [-10, -8, -6, -4, -2, 0, 2, 4, 6, 8, 10, 12, 14, 16, 18, 20]

# ---------------- figure ----------------
fig = plt.figure(figsize=(7.77, 6.81), dpi=100)
ax = fig.add_axes([82 / 777, 1 - 552 / 681, (763 - 82) / 777, (552 - 35) / 681])

cloud_x, cloud_y = [], []
for ti, devs in zip(col_ti + col2_ti, col_dev + col2_dev):
    cloud_x += [ti] * len(devs)
    cloud_y += devs

blue = '#0072BD'
ax.scatter(cloud_x, cloud_y, s=18, c=blue, linewidths=0, zorder=2)
ax.scatter(sparse_ti, sparse_dev, s=13, c=blue, linewidths=0, zorder=2)
ax.scatter(out_ti, out_dev, s=11, c=blue, linewidths=0, zorder=2)

ax.errorbar(bin_ti, bin_mean, yerr=bin_std, fmt='none', ecolor='#FF0000', elinewidth=1.1,
            capsize=4.5, capthick=1.1, alpha=0.85, zorder=3)
ax.plot(bin_ti, bin_mean, '-', color='#FF0000', lw=1.0, alpha=0.8, zorder=4)
ax.plot(bin_ti, bin_mean, 's', color='#FF0000', markersize=7, markeredgewidth=0, zorder=5)

ax.set_xlim(0, 0.5)
ax.set_ylim(-10, 20)
ax.set_xticks(x_ticks)
ax.set_xticklabels(x_labels)
ax.set_yticks(y_ticks)

txt = '#262626'
ax.tick_params(direction='in', length=5, width=0.8, color='#262626', labelsize=12.5,
               labelcolor=txt, top=False, right=False)
ax.tick_params(axis='x', pad=12)
ax.tick_params(axis='y', pad=7)
ax.grid(True, color='#E3E3E3', linewidth=1.0, zorder=0)
ax.set_axisbelow(True)
for s in ['top', 'right']:
    ax.spines[s].set_visible(False)
for s in ['left', 'bottom']:
    ax.spines[s].set_color('#555555')
    ax.spines[s].set_linewidth(1.0)

ax.set_title('Wind speed relative deviation at 134m', fontsize=13.5, fontweight='bold',
             color='black', pad=5)
ax.set_xlabel('TI', fontsize=14, color=txt, labelpad=8)
ax.set_ylabel('Scalar - Mast [%]', fontsize=14, color=txt, labelpad=7)

# slide decorations
green = '#8CC63F'
fig.patches.append(Rectangle((0, 1 - 634 / 681), 7 / 777, 12 / 681, transform=fig.transFigure,
                             facecolor=green, edgecolor='none'))
fig.patches.append(Rectangle((0, 0), 7 / 777, 19 / 681, transform=fig.transFigure,
                             facecolor=green, edgecolor='none'))
fig.text(405 / 777, 1 - 662 / 681, 'Scalar', fontsize=31, family=['Lato', 'DejaVu Sans'],
         ha='center', va='center', color='black')

fig.savefig('out.png', dpi=100)
